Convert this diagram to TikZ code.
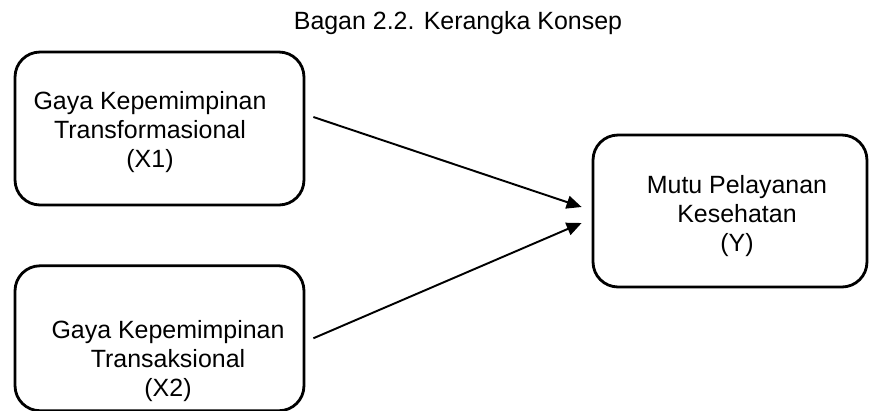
\documentclass[tikz,border=0pt]{standalone}
\usepackage{fontspec}
\setmainfont{Liberation Sans}
\usetikzlibrary{arrows.meta}
\usetikzlibrary{positioning}

\begin{document}
\begin{tikzpicture}[
    x=0.02cm, y=-0.02cm,
    >={Triangle[length=0.3cm, width=0.26cm]},
    every node/.style={font=\fontsize{14.2}{16.5}\selectfont},
    varbox/.style={rectangle, draw, line width=1.6pt, rounded corners=0.5cm, minimum width=5.78cm},
    boxtext/.style={align=center, inner sep=0pt},
    link/.style={->, line width=1.1pt}
]

\useasboundingbox (0,0) rectangle (869,410);

% Title
\node (title) at (458,23) {Bagan 2.2. Kerangka Konsep};

% Nodes
\node[varbox, minimum height=3.06cm] (x1) at (159.5,128.5) {};
\node[varbox, minimum height=2.9cm, below=1.16cm of x1] (x2) {};
\node[varbox, minimum width=5.48cm, minimum height=3.04cm] (y) at (730,211) {};

\node[boxtext] (x1text) at ([xshift=-0.19cm,yshift=-0.07cm]x1.center) {Gaya Kepemimpinan\\Transformasional\\(X1)};
\node[boxtext] (x2text) at ([xshift=0.17cm,yshift=-0.45cm]x2.center) {Gaya Kepemimpinan\\Transaksional\\(X2)};
\node[boxtext] (ytext) at ([xshift=0.14cm,yshift=-0.1cm]y.center) {Mutu Pelayanan\\Kesehatan\\(Y)};

% Edges
\draw[link] ([xshift=0.16cm,yshift=0.23cm]x1.east) -- ([xshift=-0.2cm,yshift=0.08cm]y.west);
\draw[link] ([xshift=0.16cm]x2.east) -- ([xshift=-0.2cm,yshift=-0.24cm]y.west);

\end{tikzpicture}
\end{document}
